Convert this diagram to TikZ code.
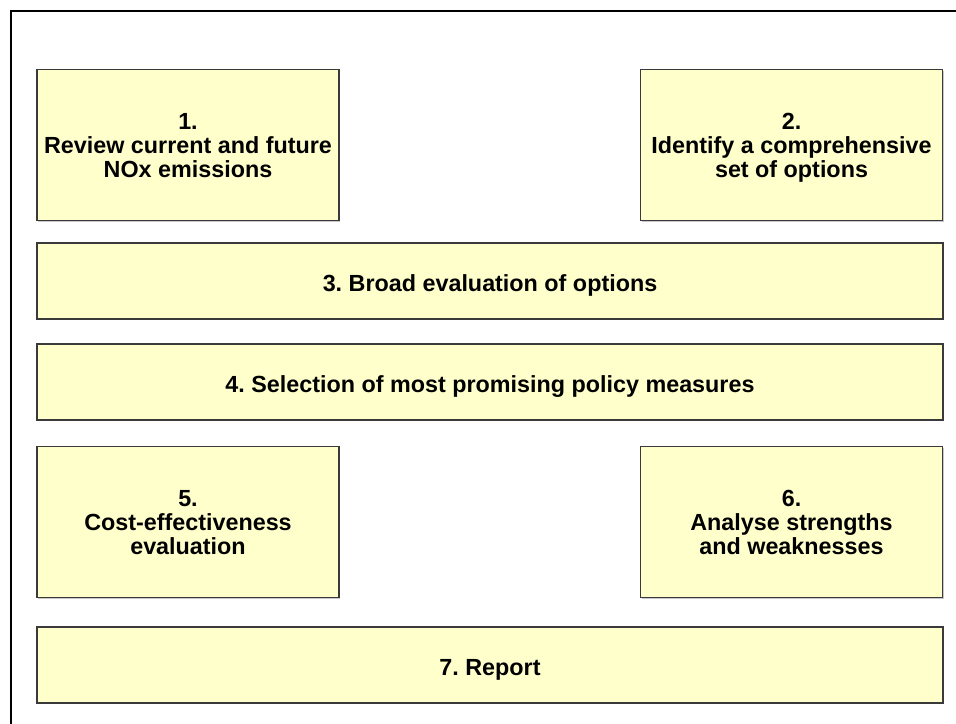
\documentclass[tikz,border=0pt]{standalone}
\usepackage{fontspec}
\setmainfont{Liberation Sans}
\usetikzlibrary{shadows}
\definecolor{boxfill}{HTML}{FFFFCC}
\definecolor{boxline}{HTML}{3A3A3A}
\definecolor{shadowgray}{HTML}{C8C8C8}
\frenchspacing
\begin{document}
\begin{tikzpicture}[x=0.75pt,y=-0.75pt,
  stepbox/.style={draw=boxline, line width=0.8pt, fill=boxfill, inner sep=0pt,
    align=center, font=\bfseries\fontsize{17.5}{18}\selectfont,
    text depth=0pt, execute at begin node={\rule{0pt}{15pt}},
    drop shadow={shadow xshift=1.1pt, shadow yshift=-1.1pt, fill=shadowgray, opacity=1}},
  narrow/.style={minimum width=226.5pt, minimum height=113pt},
  wide/.style={minimum width=679.5pt, minimum height=57pt},
  frameline/.style={line width=1.9pt, black}]
\useasboundingbox (0,0) rectangle (956,724);
\coordinate (fA) at (11,724);
\coordinate (fB) at (11,11);
\coordinate (fC) at (956,11);
\draw[frameline] (fA) -- (fB) -- (fC);
\node[stepbox, narrow] (s1) at (188,145) {1.\\Review current and future\\NOx emissions};
\node[stepbox, narrow] (s2) at (791.5,145) {2.\\Identify a comprehensive\\set of options};
\node[stepbox, wide] (s3) at (490,281) {3. Broad evaluation of options};
\node[stepbox, wide] (s4) at (490,382) {4. Selection of most promising policy measures};
\node[stepbox, narrow] (s5) at (188,522) {5.\\Cost-effectiveness\\evaluation};
\node[stepbox, narrow] (s6) at (791.5,522) {6.\\Analyse strengths\\and weaknesses};
\node[stepbox, wide] (s7) at (490,665) {7. Report};
\end{tikzpicture}
\end{document}
